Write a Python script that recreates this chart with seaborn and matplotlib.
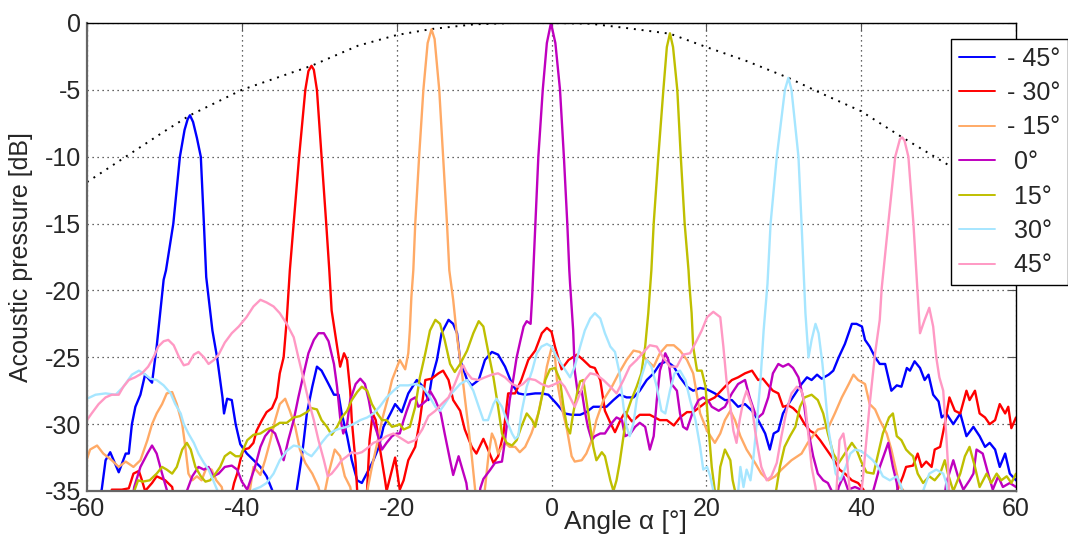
import matplotlib
matplotlib.use("Agg")
import matplotlib.pyplot as plt
import seaborn as sns
import pandas as pd

# ---------------- data ----------------
LABELS = ["- 45°", "- 30°", "- 15°", " 0°", " 15°", " 30°", " 45°"]

ANG_M45 = [-60, -58.1, -57.6, -57.0, -55.9, -55.0, -54.6, -54.2, -53.75, -53.1, -52.5, -51.6, -51.0, -50.1, -49.8, -48.85, -48.0, -47.4, -47.0, -46.7, -46.3, -45.8, -45.3, -44.9, -44.6, -43.8, -43.2, -42.5, -42.3, -41.9, -41.3, -40.8, -40.2, -39.35, -38.3, -37.6, -36.8, -36.1, -35.0, -33.5, -32.9, -32.2, -31.6, -30.9, -30.3, -29.7, -28.8, -28.1, -27.5, -27.1, -26.4, -25.8, -25.1, -24.5, -23.6, -23.0, -22.3, -21.7, -20.8, -20.2, -19.35, -18.5, -17.4, -16.6, -15.9, -15.5, -14.8, -14.2, -13.3, -12.7, -12.2, -11.8, -10.9, -10.3, -9.4, -8.6, -7.7, -6.9, -6.0, -5.1, -4.3, -3.4, -2.1, -1.25, -0.4, 0.7, 1.7, 2.6, 3.7, 4.5, 5.4, 6.3, 7.1, 8.0, 8.8, 9.7, 10.6, 11.4, 12.3, 13.2, 14.0, 14.9, 15.8, 16.6, 17.5, 18.3, 19.2, 20.1, 21.1, 22.4, 23.3, 24.1, 25.0, 25.9, 26.7, 27.6, 28.2, 28.7, 29.3, 29.9, 30.6, 31.5, 32.3, 33.0, 33.6, 34.3, 34.9, 35.8, 36.4, 37.1, 37.9, 38.8, 39.4, 40.1, 40.5, 41.1, 41.8, 42.4, 43.1, 43.9, 44.6, 45.2, 45.9, 46.3, 46.9, 47.6, 48.2, 48.7, 49.3, 50.0, 50.4, 51.0, 51.9, 52.8, 53.6, 54.5, 55.3, 56.0, 56.6, 57.3, 57.9, 58.6, 59.2, 60.0]
DB_M45 = [-37, -34.9, -32.7, -32.1, -33.6, -32.2, -32.2, -30.0, -28.7, -27.8, -26.3, -26.9, -24.2, -19.2, -18.5, -15.0, -10.0, -8.0, -7.2, -6.9, -7.4, -8.6, -10.0, -15.0, -19.0, -23.0, -25.0, -28.0, -29.2, -28.1, -28.2, -30.0, -31.5, -32.2, -32.8, -33.2, -33.9, -34.9, -37, -37, -34.9, -32.2, -29.2, -27.2, -25.7, -26.0, -27.0, -27.8, -27.8, -29.2, -30.9, -32.7, -34.2, -34.4, -33.4, -32.7, -31.7, -30.2, -29.2, -28.5, -29.1, -27.7, -26.7, -27.2, -28.2, -26.7, -25.2, -23.2, -22.2, -22.5, -23.2, -25.2, -26.7, -27.1, -26.7, -25.2, -24.6, -24.8, -25.7, -27.0, -27.7, -27.8, -27.7, -27.7, -27.8, -28.5, -29.2, -29.3, -29.3, -29.1, -28.7, -28.7, -28.7, -28.2, -27.8, -28.0, -28.0, -27.5, -26.7, -26.2, -25.5, -25.3, -25.7, -26.5, -27.2, -27.5, -27.3, -27.4, -27.7, -28.2, -28.2, -28.7, -28.5, -29.0, -29.7, -30.7, -31.9, -30.7, -30.5, -29.2, -28.5, -27.7, -27.0, -26.5, -26.7, -26.3, -26.6, -26.3, -26.0, -25.0, -24.0, -22.5, -22.5, -22.7, -23.7, -24.2, -25.0, -25.5, -25.5, -27.5, -27.1, -27.2, -25.8, -26.0, -25.3, -25.8, -26.7, -26.3, -27.8, -28.3, -29.5, -29.2, -30.0, -29.2, -30.9, -30.2, -30.9, -31.7, -31.4, -31.9, -33.2, -32.2, -33.7, -34.2]

ANG_M30 = [-60, -57.5, -56.8, -55.5, -54.6, -54.0, -53.3, -52.9, -52.5, -51.6, -51.0, -49.9, -49.0, -48.3, -42.0, -41.0, -40.6, -40.2, -39.8, -39.1, -38.5, -38.1, -37.4, -36.8, -36.1, -35.5, -35.1, -34.6, -34.2, -33.8, -33.3, -32.6, -31.8, -31.4, -31.0, -30.7, -30.3, -29.7, -29.1, -28.7, -28.4, -27.7, -27.3, -26.8, -26.4, -26.0, -25.8, -25.3, -25.1, -24.6, -24.0, -23.5, -23.1, -22.7, -22.2, -21.5, -21.3, -20.6, -20.2, -19.6, -19.1, -18.5, -17.6, -17.0, -16.3, -15.5, -14.6, -14.0, -13.3, -12.7, -11.8, -11.2, -10.3, -9.7, -8.8, -8.2, -7.5, -6.9, -6.2, -5.6, -4.7, -3.9, -3.0, -2.1, -1.25, -0.6, 0.0, 0.45, 1.3, 2.2, 3.3, 4.1, 5.0, 5.6, 6.3, 6.9, 7.6, 8.2, 8.9, 9.5, 10.4, 11.4, 12.7, 14.0, 14.9, 15.8, 16.6, 17.5, 18.3, 19.2, 20.1, 21.1, 22.4, 23.3, 24.1, 25.0, 25.9, 26.7, 27.3, 28.0, 28.6, 29.3, 29.9, 30.6, 31.2, 31.9, 32.7, 33.4, 34.0, 34.7, 35.3, 35.9, 36.6, 37.2, 37.9, 38.8, 39.6, 40.3, 41.0, 44.0, 44.7, 45.4, 45.8, 46.7, 47.3, 47.8, 48.4, 49.1, 49.5, 50.2, 50.8, 51.4, 52.1, 52.8, 53.6, 54.0, 54.7, 55.3, 56.0, 56.6, 57.3, 57.9, 58.6, 59.0, 59.4, 60.0]
DB_M30 = [-37, -37, -34.9, -34.9, -34.8, -33.7, -33.5, -34.2, -35.0, -34.4, -33.9, -34.2, -34.7, -37, -37, -34.4, -33.7, -32.7, -31.9, -31.8, -31.4, -30.5, -29.7, -29.1, -28.8, -28.0, -26.2, -25.0, -22.2, -18.5, -15.0, -10.0, -5.0, -3.6, -3.2, -3.5, -5.0, -10.0, -15.0, -18.5, -21.5, -24.2, -25.7, -24.7, -25.2, -27.5, -29.7, -32.9, -35.0, -37, -37, -31.2, -29.2, -29.7, -31.7, -34.2, -35.0, -33.4, -32.5, -34.9, -34.2, -32.7, -31.7, -29.7, -26.7, -26.6, -26.2, -26.0, -26.7, -28.2, -29.0, -30.4, -31.7, -32.2, -31.1, -31.9, -32.9, -32.4, -30.7, -27.7, -27.7, -26.7, -25.2, -24.5, -23.2, -22.8, -23.1, -24.2, -25.9, -25.2, -24.8, -25.2, -25.7, -25.8, -26.7, -29.0, -29.9, -30.6, -29.7, -29.1, -29.8, -29.3, -29.3, -29.7, -29.7, -30.1, -29.5, -29.1, -29.1, -28.7, -28.3, -28.0, -27.2, -26.7, -26.5, -26.2, -26.0, -26.7, -26.6, -27.1, -27.5, -27.7, -28.7, -28.6, -28.8, -29.2, -30.0, -30.5, -30.7, -31.2, -31.7, -32.2, -32.8, -33.4, -33.7, -34.2, -34.4, -34.9, -37, -37, -34.9, -33.9, -33.2, -33.1, -32.2, -33.2, -32.8, -33.2, -31.9, -31.7, -30.0, -28.0, -29.0, -29.2, -27.5, -28.2, -27.5, -29.2, -29.5, -30.0, -29.7, -28.5, -29.2, -28.7, -30.3, -29.5]

ANG_M15 = [-60, -59.6, -58.7, -57.9, -56.8, -55.9, -55.0, -54.0, -53.1, -52.2, -51.6, -51.0, -50.3, -49.7, -49.0, -48.4, -47.7, -47.3, -46.9, -46.4, -45.8, -45.2, -44.6, -43.9, -43.3, -42.6, -41.8, -39.5, -38.5, -37.6, -37.0, -36.3, -35.7, -35.1, -34.4, -33.8, -33.1, -32.5, -31.8, -30.9, -30.1, -29.6, -28.8, -28.0, -27.3, -26.7, -26.0, -25.3, -24.2, -23.8, -23.2, -22.5, -21.9, -21.2, -20.6, -20.0, -19.6, -18.9, -18.5, -18.3, -18.1, -17.85, -17.6, -17.1, -16.55, -16.0, -15.5, -15.1, -14.5, -14.0, -13.5, -13.2, -12.7, -12.2, -11.6, -11.2, -10.7, -10.3, -9.9, -9.5, -9.0, -8.15, -7.7, -7.3, -6.9, -6.4, -6.0, -5.4, -4.7, -4.1, -3.4, -2.6, -1.7, -1.1, -0.6, 0.0, 0.4, 0.7, 1.3, 2.0, 2.6, 3.0, 3.9, 4.5, 5.2, 5.8, 6.7, 7.8, 8.6, 9.7, 10.6, 11.4, 12.3, 13.2, 14.0, 14.9, 15.8, 16.6, 17.5, 18.3, 19.2, 20.1, 21.1, 21.8, 22.4, 23.1, 23.7, 24.4, 25.2, 26.3, 27.1, 28.0, 28.9, 29.7, 31.0, 32.3, 33.1, 34.4, 35.8, 36.6, 37.5, 38.4, 39.0, 39.6, 40.5, 41.1, 41.8, 42.4, 43.3, 43.9, 44.6, 45.0, 45.4, 46.0, 60.0]
DB_M15 = [-32.6, -31.9, -31.6, -32.2, -32.7, -33.2, -32.8, -33.2, -32.7, -31.2, -30.0, -29.2, -28.5, -27.7, -27.6, -28.5, -30.0, -31.7, -33.7, -34.2, -33.9, -34.2, -33.3, -33.4, -34.2, -34.7, -37, -37, -33.2, -33.8, -32.7, -31.2, -29.7, -28.5, -28.1, -29.0, -30.2, -31.9, -32.9, -33.7, -34.7, -36, -33.7, -31.9, -32.4, -33.9, -34.7, -37, -37, -35.0, -33.2, -31.4, -29.7, -28.2, -26.7, -25.8, -25.2, -25.9, -24.7, -23.0, -20.5, -18.5, -15.0, -10.0, -5.0, -1.5, -0.47, -1.2, -5.0, -10.0, -15.0, -18.5, -20.7, -23.5, -26.0, -28.0, -30.4, -32.4, -34.7, -37, -37, -32.4, -30.7, -31.2, -32.2, -31.7, -31.4, -31.7, -31.7, -32.1, -31.7, -30.7, -29.2, -27.5, -25.7, -24.3, -24.6, -26.7, -28.7, -30.4, -32.4, -32.8, -32.7, -32.2, -31.2, -29.7, -28.2, -27.2, -26.3, -25.2, -24.5, -24.6, -25.2, -25.7, -24.7, -24.1, -24.1, -24.5, -25.2, -26.2, -29.2, -30.5, -31.4, -30.7, -29.7, -29.0, -29.7, -30.9, -31.9, -32.9, -33.7, -34.2, -33.9, -33.4, -32.7, -32.2, -31.4, -30.4, -30.2, -29.2, -28.0, -27.0, -26.3, -26.7, -27.0, -28.5, -28.9, -29.7, -30.7, -31.9, -33.7, -34.7, -34.9, -37, -37]

ANG_0 = [-60, -54.5, -53.9, -53.1, -52.2, -51.6, -51.0, -50.3, -49.7, -49.2, -47.6, -47.1, -46.4, -45.6, -44.9, -44.3, -43.7, -43.0, -42.2, -41.3, -40.6, -40.0, -39.3, -38.3, -37.6, -37.0, -36.3, -35.7, -35.1, -34.6, -34.0, -33.3, -32.7, -32.0, -31.4, -30.7, -30.1, -29.4, -28.8, -28.1, -27.7, -27.3, -26.9, -26.4, -26.0, -25.3, -24.7, -24.1, -23.6, -23.2, -22.5, -21.9, -21.3, -20.6, -20.0, -19.6, -19.1, -18.7, -18.2, -17.6, -17.2, -16.7, -16.1, -15.7, -15.0, -14.3, -13.8, -13.1, -12.7, -12.0, -11.6, -11.0, -10.4, -9.5, -9.2, -8.8, -7.9, -7.3, -6.4, -6.0, -5.8, -5.4, -4.9, -4.5, -4.0, -3.6, -3.2, -2.7, -2.5, -2.35, -2.1, -1.7, -1.13, -0.6, -0.07, 0.5, 1.1, 1.6, 2.04, 2.3, 2.4, 2.8, 3.0, 3.4, 3.9, 4.3, 4.7, 5.2, 5.6, 6.3, 6.9, 7.8, 8.4, 9.1, 9.5, 10.2, 10.8, 11.4, 12.1, 12.7, 13.2, 13.6, 14.0, 14.7, 15.1, 15.5, 16.2, 16.6, 17.0, 17.5, 17.9, 18.3, 19.0, 19.6, 20.3, 20.7, 21.6, 22.4, 23.3, 24.1, 25.0, 25.6, 26.3, 26.7, 27.3, 28.0, 28.6, 29.3, 29.9, 30.6, 31.2, 31.9, 32.5, 32.9, 33.4, 33.8, 34.4, 35.1, 35.7, 36.2, 36.6, 37.1, 37.7, 38.3, 39.2, 40.0, 41.0, 41.6, 42.4, 43.5, 44.1, 44.6, 45.1, 50.4, 51.0, 51.9, 52.5, 53.2, 54.0, 54.5, 54.9, 55.7, 56.4, 57.0, 57.7, 58.3, 59.2, 60.0]
DB_0 = [-37, -37, -34.7, -33.2, -32.2, -31.6, -32.2, -33.7, -34.9, -37, -37, -35.0, -33.9, -33.2, -33.4, -33.2, -33.9, -33.7, -33.2, -33.1, -33.4, -34.3, -34.9, -33.2, -31.7, -30.9, -30.4, -30.7, -31.7, -32.7, -31.2, -29.7, -28.0, -26.2, -24.7, -23.7, -23.2, -23.2, -23.8, -25.5, -27.2, -29.5, -30.7, -30.0, -28.2, -27.0, -26.6, -27.0, -28.2, -29.5, -30.7, -31.9, -31.4, -30.9, -30.7, -30.7, -29.7, -29.0, -28.2, -28.0, -28.7, -28.5, -28.2, -27.5, -28.2, -29.2, -30.7, -32.7, -33.8, -32.4, -33.2, -34.4, -37, -37, -34.8, -34.1, -33.4, -32.9, -32.8, -31.2, -30.2, -28.2, -26.5, -25.0, -23.7, -22.7, -22.3, -22.5, -20.5, -18.5, -15.0, -10.0, -5.0, -1.5, 0.0, -1.5, -5.0, -10.0, -15.0, -18.5, -19.5, -23.0, -26.0, -27.7, -27.5, -29.0, -30.2, -31.2, -30.9, -30.7, -30.7, -29.9, -29.5, -29.7, -30.9, -30.7, -30.2, -29.9, -30.2, -31.9, -30.9, -28.2, -26.0, -24.7, -25.2, -27.0, -27.5, -29.2, -30.2, -30.4, -29.7, -29.0, -28.2, -28.0, -28.3, -28.7, -29.0, -28.7, -27.7, -27.0, -26.7, -28.0, -29.2, -29.5, -29.2, -28.0, -26.2, -25.5, -25.7, -25.5, -25.8, -26.5, -28.0, -29.7, -31.2, -32.4, -33.7, -34.2, -34.4, -35.0, -36, -34.7, -33.9, -34.9, -34.7, -34.9, -36, -34.9, -33.2, -31.4, -33.2, -34.4, -37, -37, -34.4, -32.7, -33.9, -34.9, -34.2, -33.7, -31.9, -32.2, -33.7, -34.9, -33.9, -34.7, -34.4, -34.7]

ANG_15 = [-60, -54.3, -53.9, -53.4, -52.8, -51.9, -51.0, -50.3, -49.7, -49.0, -48.4, -47.7, -47.1, -46.6, -46.0, -45.3, -44.7, -44.1, -43.4, -42.8, -42.2, -41.5, -40.8, -40.2, -39.3, -38.5, -37.6, -36.8, -35.9, -35.1, -34.2, -33.3, -32.5, -31.6, -31.0, -30.3, -29.7, -29.0, -28.4, -27.7, -27.1, -26.4, -25.8, -25.1, -24.5, -23.8, -23.2, -22.5, -21.9, -21.3, -20.6, -20.0, -19.6, -19.1, -18.3, -17.6, -17.0, -16.3, -15.7, -15.0, -14.4, -13.8, -13.1, -12.5, -11.8, -10.9, -10.1, -9.4, -8.8, -8.2, -7.5, -6.9, -6.4, -5.8, -5.1, -4.5, -3.9, -3.2, -2.5, -2.1, -1.5, -0.8, -0.2, 0.45, 1.1, 1.5, 2.0, 2.4, 2.8, 3.3, 3.7, 4.1, 4.5, 5.0, 5.4, 5.8, 6.5, 6.9, 7.6, 8.0, 8.4, 8.8, 9.3, 9.7, 10.3, 11.0, 11.6, 12.1, 12.5, 12.9, 13.2, 13.8, 14.45, 14.9, 15.3, 15.7, 16.25, 16.7, 17.2, 17.7, 17.8, 18.1, 18.3, 18.8, 19.4, 19.9, 20.2, 20.7, 21.1, 21.4, 21.8, 22.4, 23.1, 23.4, 23.9, 24.5, 28.5, 29.0, 29.5, 30.1, 30.8, 31.5, 32.1, 32.7, 33.6, 34.4, 35.1, 35.7, 36.4, 37.1, 37.9, 38.8, 39.4, 40.0, 40.7, 41.6, 42.2, 42.8, 43.6, 44.1, 44.6, 45.2, 45.8, 46.3, 46.7, 47.3, 48.0, 48.8, 49.5, 50.2, 50.8, 51.2, 51.9, 52.8, 53.4, 54.0, 54.7, 55.3, 56.2, 56.8, 57.5, 58.1, 58.8, 59.4, 60.0]
DB_15 = [-37, -37, -35.0, -34.2, -34.3, -34.2, -33.7, -33.2, -33.4, -33.7, -33.2, -31.9, -31.4, -31.9, -33.2, -33.9, -34.3, -34.2, -33.7, -33.2, -32.4, -32.1, -32.4, -32.4, -31.2, -30.8, -30.7, -30.4, -30.2, -29.9, -29.9, -29.5, -29.4, -29.1, -28.8, -28.9, -29.7, -30.2, -30.8, -30.2, -29.5, -29.0, -28.2, -27.6, -27.2, -27.5, -28.5, -29.2, -29.7, -29.7, -30.2, -30.1, -30.0, -30.4, -30.2, -28.7, -26.5, -24.7, -23.0, -22.2, -22.5, -23.7, -25.5, -26.1, -25.5, -24.5, -23.2, -22.3, -22.7, -24.5, -26.5, -28.7, -30.7, -31.4, -31.6, -31.2, -30.2, -29.2, -29.7, -30.2, -28.7, -26.7, -25.9, -25.8, -26.7, -28.5, -30.2, -30.7, -29.2, -27.7, -26.8, -26.7, -28.2, -30.2, -31.7, -32.7, -32.1, -32.4, -34.2, -35.0, -34.2, -32.9, -30.9, -29.2, -28.2, -27.2, -26.2, -24.2, -21.7, -18.5, -15.0, -10.0, -5.0, -1.8, -0.77, -1.8, -5.0, -10.0, -15.0, -18.5, -19.5, -21.7, -24.2, -26.0, -26.0, -27.2, -29.7, -33.2, -35.0, -36, -33.2, -31.9, -32.7, -34.2, -35.5, -37, -37, -35.0, -33.2, -31.7, -30.9, -30.2, -28.7, -28.0, -27.8, -28.2, -29.2, -30.7, -32.2, -32.9, -32.2, -31.4, -31.9, -32.8, -33.6, -33.7, -32.2, -30.7, -29.5, -29.2, -30.9, -31.2, -31.9, -32.2, -32.4, -33.7, -34.4, -33.9, -34.2, -33.7, -32.7, -33.7, -35.0, -33.7, -32.4, -31.7, -33.2, -34.7, -33.7, -34.4, -33.7, -34.2, -33.9, -34.4, -33.7]

ANG_30 = [-60, -58.9, -57.6, -56.3, -55.3, -54.2, -53.3, -52.7, -51.8, -51.0, -50.1, -49.2, -48.6, -47.9, -47.5, -46.9, -46.2, -45.6, -44.9, -44.3, -43.7, -43.2, -42.6, -39.3, -38.5, -37.6, -36.8, -35.9, -35.1, -34.2, -33.3, -32.5, -31.6, -31.0, -30.3, -29.7, -29.0, -28.4, -27.7, -27.1, -26.4, -25.6, -24.7, -23.8, -23.0, -22.2, -21.3, -20.4, -19.6, -18.5, -17.6, -16.7, -15.9, -15.0, -14.4, -13.8, -12.9, -11.8, -10.9, -10.1, -9.4, -8.8, -8.2, -7.5, -7.1, -6.4, -5.8, -5.1, -4.7, -4.3, -3.9, -3.2, -2.5, -1.9, -1.3, -0.6, 0.0, 0.7, 1.5, 2.4, 3.0, 3.7, 4.3, 5.0, 5.6, 6.3, 6.9, 7.6, 8.2, 8.8, 9.3, 9.7, 10.1, 10.6, 11.0, 11.6, 12.3, 12.9, 13.6, 14.2, 14.7, 15.3, 15.9, 16.6, 17.3, 17.9, 18.6, 19.2, 19.6, 20.1, 20.5, 21.1, 21.8, 23.8, 24.4, 24.8, 25.2, 25.7, 26.1, 26.5, 27.0, 27.4, 27.9, 28.3, 29.1, 30.15, 30.6, 31.0, 31.9, 32.3, 32.6, 32.8, 33.2, 33.6, 34.1, 34.5, 35.0, 35.4, 35.8, 36.3, 36.7, 37.3, 38.0, 38.6, 39.2, 39.9, 40.7, 41.5, 42.2, 42.8, 43.7, 44.6, 45.2, 45.9, 47.5, 48.0, 48.8, 49.7, 50.6, 51.0, 51.6, 60.0]
DB_30 = [-28.1, -27.8, -27.7, -27.8, -27.2, -26.3, -26.0, -26.2, -26.6, -26.7, -27.1, -27.7, -28.5, -29.2, -30.0, -30.7, -31.4, -32.2, -32.9, -33.4, -34.2, -34.9, -37, -37, -34.9, -34.7, -34.4, -33.7, -32.7, -32.0, -31.6, -31.7, -32.2, -32.4, -31.9, -31.4, -30.9, -30.6, -30.4, -30.3, -30.2, -30.0, -29.7, -29.5, -29.2, -28.7, -28.0, -27.5, -27.1, -27.1, -27.0, -27.2, -27.8, -28.7, -29.0, -28.5, -27.7, -27.0, -26.7, -27.5, -28.7, -29.7, -29.7, -28.5, -28.1, -28.7, -29.7, -30.7, -31.1, -30.9, -29.2, -27.2, -26.0, -24.7, -24.2, -24.0, -24.2, -25.0, -25.7, -26.5, -25.7, -24.2, -23.0, -22.1, -21.7, -22.1, -23.2, -24.2, -24.6, -26.2, -28.7, -30.2, -30.9, -29.9, -28.2, -26.5, -25.2, -25.7, -27.2, -29.0, -29.2, -27.5, -26.2, -26.0, -26.7, -28.2, -29.7, -31.7, -33.4, -33.2, -33.9, -35.5, -37, -37, -33.2, -34.7, -33.4, -34.2, -32.4, -30.0, -26.7, -23.0, -19.5, -15.0, -10.0, -5.0, -4.1, -5.0, -10.0, -15.0, -19.0, -21.7, -25.0, -23.7, -22.5, -23.2, -25.5, -28.0, -30.5, -32.2, -33.7, -34.2, -33.2, -32.2, -31.9, -32.0, -32.3, -32.7, -33.2, -33.9, -34.2, -33.9, -34.7, -37, -37, -35.0, -33.7, -33.4, -33.7, -34.4, -37, -37]

ANG_45 = [-60, -59.4, -58.5, -57.6, -56.8, -55.9, -55.3, -54.6, -53.8, -52.9, -52.1, -51.4, -50.8, -50.1, -49.5, -48.8, -48.1, -47.5, -46.9, -46.2, -45.6, -44.9, -44.3, -43.6, -43.0, -42.2, -41.3, -40.4, -39.4, -38.5, -37.6, -36.8, -35.9, -35.1, -34.2, -33.3, -32.7, -32.0, -31.4, -30.7, -30.1, -29.4, -28.9, -28.4, -27.7, -27.1, -26.4, -25.8, -25.1, -24.5, -23.8, -23.0, -22.1, -21.3, -20.4, -19.6, -18.5, -17.6, -16.7, -15.9, -15.0, -14.2, -13.3, -12.5, -11.8, -11.4, -11.0, -10.3, -9.4, -8.6, -7.7, -6.9, -6.0, -5.1, -4.3, -3.7, -3.0, -2.1, -1.3, -0.4, 0.45, 1.1, 1.7, 2.4, 3.0, 3.7, 4.3, 5.0, 5.8, 6.7, 7.6, 8.4, 9.3, 10.1, 11.0, 11.9, 12.7, 13.6, 14.4, 15.3, 16.2, 17.0, 17.9, 18.8, 19.4, 20.1, 20.9, 21.8, 22.2, 22.6, 23.1, 23.5, 23.9, 24.3, 24.8, 25.2, 25.9, 26.3, 26.7, 27.1, 27.8, 28.4, 29.1, 29.7, 30.4, 31.0, 31.7, 32.3, 32.8, 33.2, 33.6, 34.1, 34.6, 36.6, 37.2, 37.7, 38.1, 38.6, 39.3, 39.8, 40.2, 40.6, 41.1, 41.8, 42.4, 42.65, 43.5, 44.4, 45.0, 45.3, 45.6, 46.1, 46.75, 47.25, 47.6, 48.2, 48.8, 49.3, 49.7, 50.1, 50.6, 50.8, 51.0, 51.2, 51.5, 60.0]
DB_45 = [-29.7, -29.2, -28.5, -28.0, -27.8, -27.8, -27.2, -26.7, -26.5, -26.2, -25.7, -25.0, -24.2, -23.8, -23.7, -24.1, -25.0, -25.6, -25.5, -24.8, -24.6, -25.0, -25.5, -25.2, -24.8, -23.9, -23.2, -22.7, -22.0, -21.2, -20.7, -20.9, -21.2, -21.7, -22.5, -23.5, -25.0, -26.7, -28.2, -29.7, -31.2, -32.7, -33.9, -33.7, -33.2, -32.7, -32.4, -32.1, -32.2, -32.1, -31.8, -31.4, -31.2, -30.9, -30.7, -31.0, -31.4, -31.2, -30.4, -29.4, -29.0, -28.5, -28.0, -27.0, -26.0, -25.6, -26.1, -26.6, -26.7, -26.5, -26.3, -26.2, -26.5, -27.0, -27.2, -27.0, -26.6, -26.7, -27.0, -27.2, -27.0, -26.8, -27.2, -28.0, -28.7, -27.7, -26.7, -26.2, -26.3, -26.7, -27.2, -27.7, -26.7, -25.7, -25.2, -24.6, -24.1, -24.2, -25.0, -25.7, -25.7, -24.8, -24.7, -23.7, -23.0, -22.0, -21.6, -22.0, -24.2, -26.7, -28.7, -30.5, -31.4, -29.7, -28.2, -27.5, -28.7, -30.5, -31.9, -33.2, -34.2, -33.9, -32.9, -30.9, -28.9, -27.7, -27.2, -27.5, -28.7, -30.9, -33.2, -34.7, -37, -37, -31.2, -30.7, -32.2, -35.5, -37, -36, -34.2, -31.7, -28.5, -24.7, -22.2, -19.85, -15.0, -10.0, -8.7, -8.55, -8.8, -10.0, -15.0, -19.85, -23.2, -22.2, -21.3, -22.7, -25.0, -26.5, -27.5, -29.2, -30.9, -32.9, -37, -37]

# envelope of the main-lobe maxima (dotted curve)
ENV_ANG = [-60, -55, -50, -46.7, -40, -35, -31, -25, -20, -15.5, -10, -5, 0, 5, 10, 15.3, 20, 25, 30.6, 35, 40, 45.3, 51.5, 60]
ENV_DB = [-11.9, -10.0, -8.1, -6.9, -5.0, -4.0, -3.2, -1.7, -0.9, -0.45, -0.1, 0.0, 0.0, -0.05, -0.4, -0.8, -1.8, -2.8, -4.1, -5.3, -6.6, -8.55, -10.7, -14.0]

X_TICKS = [-60, -40, -20, 0, 20, 40, 60]
Y_TICKS = [-35, -30, -25, -20, -15, -10, -5, 0]

# ---------------- styling ----------------
COLORS = ["#0000FF", "#FF0000", "#FFAA66", "#BF00BF", "#BFBF00", "#A6E6FF", "#FF99C4"]

sns.set_style("white")
plt.rcParams["font.family"] = ["Liberation Sans", "DejaVu Sans"]
plt.rcParams["axes.unicode_minus"] = False

series = [(ANG_M45, DB_M45), (ANG_M30, DB_M30), (ANG_M15, DB_M15), (ANG_0, DB_0),
          (ANG_15, DB_15), (ANG_30, DB_30), (ANG_45, DB_45)]
frames = []
for lab, (a, d) in zip(LABELS, series):
    frames.append(pd.DataFrame({"angle": a, "db": d, "steer": lab}))
df = pd.concat(frames, ignore_index=True)

fig = plt.figure(figsize=(10.68, 5.38), dpi=100)
ax = fig.add_axes([87 / 1068, 47 / 538, 929 / 1068, 468 / 538])

sns.lineplot(x=ENV_ANG, y=ENV_DB, color="black", linestyle=(0, (1, 3)), linewidth=1.4,
             legend=False, ax=ax)
sns.lineplot(data=df, x="angle", y="db", hue="steer", hue_order=LABELS, palette=COLORS,
             estimator=None, sort=False, linewidth=1.7, ax=ax)

ax.set_xlim(-60, 60)
ax.set_ylim(-35, 0)
ax.set_xticks(X_TICKS)
ax.set_yticks(Y_TICKS)
ax.tick_params(direction="in", length=6, top=True, right=True, labelsize=18, pad=4,
               color="#555555")
ax.grid(True, color="#333333", linestyle=(0, (1, 3)), linewidth=0.9)
for s in ["left", "bottom"]:
    ax.spines[s].set_color("#666666")
    ax.spines[s].set_linewidth(1.6)
for s in ["top", "right"]:
    ax.spines[s].set_color("black")
    ax.spines[s].set_linewidth(1.0)

ax.set_xlabel("Angle α [°]", fontsize=19)
ax.xaxis.set_label_coords(0.58, -0.040)
ax.set_ylabel("Acoustic pressure [dB]", fontsize=18)
ax.yaxis.set_label_coords(-0.058, 0.5)

handles, labels = ax.get_legend_handles_labels()
for h in handles:
    h.set_linewidth(1.4)
leg = ax.legend(handles, labels, loc="upper left", bbox_to_anchor=(951 / 1068, 1 - 39 / 538),
                bbox_transform=fig.transFigure, borderaxespad=0, fontsize=18,
                frameon=True, fancybox=False, edgecolor="black", framealpha=1,
                handlelength=1.45, handletextpad=0.5, labelspacing=0.42, borderpad=0.3)
leg.get_frame().set_linewidth(1.0)

fig.savefig("out.png", dpi=100)
